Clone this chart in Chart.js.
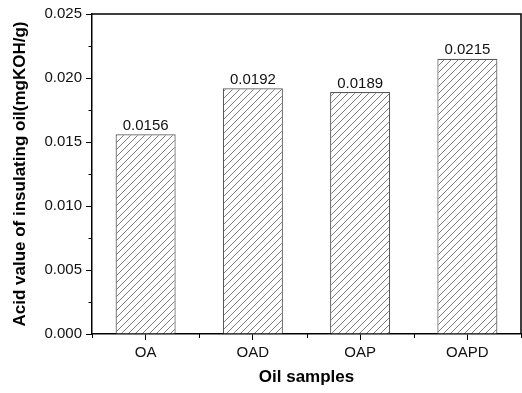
<!DOCTYPE html>
<html>
<head>
<meta charset="utf-8">
<script src="https://cdn.jsdelivr.net/npm/chart.js@4.4.1/dist/chart.umd.min.js"></script>
<style>
  html, body { margin: 0; padding: 0; background: #fff; }
  #wrap { width: 522px; height: 393px; }
</style>
</head>
<body>
<div id="wrap"><canvas id="c" width="522" height="393"></canvas></div>
<script>
// Oil samples and their measured acid values (mgKOH/g)
const samples = ['OA', 'OAD', 'OAP', 'OAPD'];
const acidValues = [0.0156, 0.0192, 0.0189, 0.0215];
const valueLabels = ['0.0156', '0.0192', '0.0189', '0.0215'];
// Y axis range and tick steps
const yMin = 0;
const yMax = 0.025;
const yMajorStep = 0.005;
const yMinorStep = 0.0025;

const FONT = 'Liberation Sans, Arial, Helvetica, sans-serif';

// Diagonal "/" hatching used to fill the bars
function makeHatch() {
  const s = 7;
  const c = document.createElement('canvas');
  c.width = s; c.height = s;
  const g = c.getContext('2d');
  g.fillStyle = '#ffffff';
  g.fillRect(0, 0, s, s);
  g.strokeStyle = '#707070';
  g.lineWidth = 0.9;
  g.beginPath();
  g.moveTo(0, s); g.lineTo(s, 0);
  g.moveTo(-1, 1); g.lineTo(1, -1);
  g.moveTo(s - 1, s + 1); g.lineTo(s + 1, s - 1);
  g.stroke();
  return g.createPattern(c, 'repeat');
}

// Frame, minor ticks and value labels
const decorations = {
  id: 'decorations',
  afterDatasetsDraw(chart) {
    const ctx = chart.ctx;
    const a = chart.chartArea;
    const xs = chart.scales.x;
    const ys = chart.scales.y;
    ctx.save();
    // value labels above bars
    ctx.fillStyle = '#111';
    ctx.font = '15px ' + FONT;
    ctx.textAlign = 'center';
    ctx.textBaseline = 'bottom';
    chart.getDatasetMeta(0).data.forEach((bar, i) => {
      ctx.fillText(valueLabels[i], bar.x, bar.y - 1);
    });
    ctx.restore();
  },
  afterDraw(chart) {
    const ctx = chart.ctx;
    const a = chart.chartArea;
    const xs = chart.scales.x;
    const ys = chart.scales.y;
    ctx.save();
    ctx.strokeStyle = '#000';
    ctx.lineWidth = 1.5;
    // top and right frame lines
    ctx.beginPath();
    ctx.moveTo(a.left, a.top);
    ctx.lineTo(a.right, a.top);
    ctx.lineTo(a.right, a.bottom);
    ctx.stroke();
    // minor y ticks
    ctx.lineWidth = 1;
    ctx.beginPath();
    for (let v = yMin + yMinorStep; v < yMax; v += yMajorStep) {
      const y = Math.round(ys.getPixelForValue(v)) + 0.5;
      ctx.moveTo(a.left - 3.5, y);
      ctx.lineTo(a.left, y);
    }
    // minor x ticks on category boundaries
    for (let i = 0; i <= samples.length; i++) {
      const x = Math.round(xs.getPixelForValue(i - 0.5)) + 0.5;
      ctx.moveTo(x, a.bottom);
      ctx.lineTo(x, a.bottom + 4);
    }
    ctx.stroke();
    ctx.restore();
  }
};

new Chart(document.getElementById('c'), {
  type: 'bar',
  data: {
    labels: samples,
    datasets: [{
      data: acidValues,
      backgroundColor: makeHatch(),
      borderColor: '#5a5a5a',
      borderWidth: 1.2,
      categoryPercentage: 1.0,
      barPercentage: 0.56
    }]
  },
  options: {
    responsive: false,
    animation: false,
    devicePixelRatio: 1,
    layout: { padding: { top: 14, right: 1, left: 0, bottom: 0 } },
    plugins: {
      legend: { display: false },
      tooltip: { enabled: false }
    },
    scales: {
      x: {
        type: 'category',
        offset: true,
        grid: { display: true, drawOnChartArea: false, offset: false, tickLength: 6, color: '#000', lineWidth: 1 },
        border: { color: '#000', width: 1.5 },
        ticks: { color: '#111', font: { family: FONT, size: 15 }, padding: 4 },
        title: {
          display: true,
          text: 'Oil samples',
          color: '#000',
          font: { family: FONT, size: 17, weight: 'bold' },
          padding: { top: 0, bottom: 5 }
        },
        afterFit(scale) { scale.height = 59; }
      },
      y: {
        min: yMin,
        max: yMax,
        ticks: {
          stepSize: yMajorStep,
          color: '#111',
          font: { family: FONT, size: 15 },
          padding: 4,
          callback: v => Number(v).toFixed(3)
        },
        grid: { display: true, drawOnChartArea: false, tickLength: 6, color: '#000', lineWidth: 1 },
        border: { color: '#000', width: 1.5 },
        title: {
          display: true,
          text: 'Acid value of insulating oil(mgKOH/g)',
          color: '#000',
          font: { family: FONT, size: 17, weight: 'bold' },
          padding: { top: 10, bottom: 0 }
        },
        afterFit(scale) { scale.width = 92; }
      }
    }
  },
  plugins: [decorations]
});
</script>
</body>
</html>
